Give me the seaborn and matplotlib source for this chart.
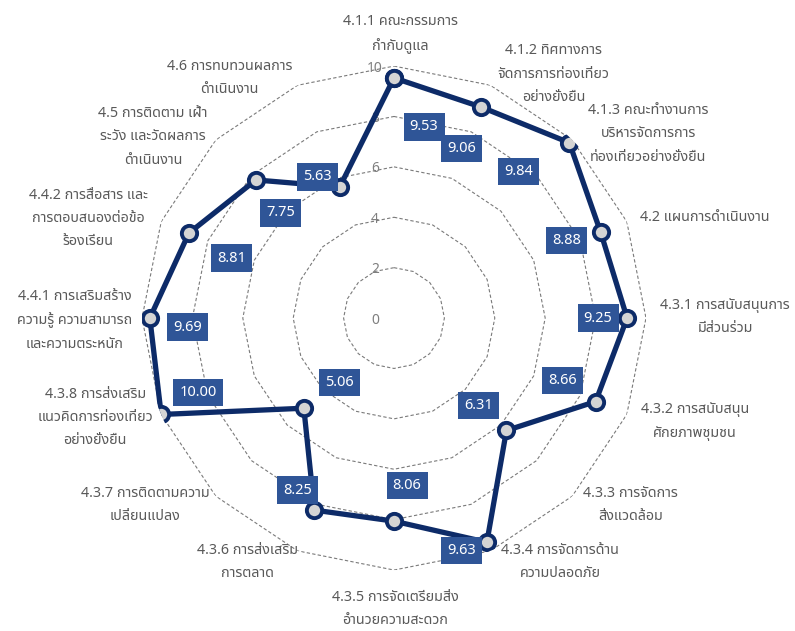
import matplotlib

matplotlib.use("Agg")

import matplotlib.pyplot as plt
import numpy as np
import pandas as pd
import seaborn as sns
from matplotlib import font_manager

categories = [
    "4.1.1 คณะกรรมการ\nกำกับดูแล",
    "4.1.2 ทิศทางการ\nจัดการการท่องเที่ยว\nอย่างยั่งยืน",
    "4.1.3 คณะทำงานการ\nบริหารจัดการการ\nท่องเที่ยวอย่างยั่งยืน",
    "4.2 แผนการดำเนินงาน",
    "4.3.1 การสนับสนุนการ\nมีส่วนร่วม",
    "4.3.2 การสนับสนุน\nศักยภาพชุมชน",
    "4.3.3 การจัดการ\nสิ่งแวดล้อม",
    "4.3.4 การจัดการด้าน\nความปลอดภัย",
    "4.3.5 การจัดเตรียมสิ่ง\nอำนวยความสะดวก",
    "4.3.6 การส่งเสริม\nการตลาด",
    "4.3.7 การติดตามความ\nเปลี่ยนแปลง",
    "4.3.8 การส่งเสริม\nแนวคิดการท่องเที่ยว\nอย่างยั่งยืน",
    "4.4.1 การเสริมสร้าง\nความรู้ ความสามารถ\nและความตระหนัก",
    "4.4.2 การสื่อสาร และ\nการตอบสนองต่อข้อ\nร้องเรียน",
    "4.5 การติดตาม เฝ้า\nระวัง และวัดผลการ\nดำเนินงาน",
    "4.6 การทบทวนผลการ\nดำเนินงาน",
]
scores = [9.53, 9.06, 9.84, 8.88, 9.25, 8.66, 6.31, 9.63,
          8.06, 8.25, 5.06, 10.00, 9.69, 8.81, 7.75, 5.63]
ticks = [0, 2, 4, 6, 8, 10]

# label placement (pixels), tuned by eye
cat_offsets = [(6, 32), (63, 11), (76, 6), (78, 4), (79, 1), (68, -7),
               (58, -9), (70, -11), (1, -39), (-50, -11), (-71, -9),
               (-66, -3), (-67, -2), (-73, 3), (-63, 3), (-68, 7)]
val_offsets = [(30, -49), (-20, -41), (-51, -29), (-34, -8), (-29, 0),
               (-33, 21), (-28, 25), (-25, -8), (13, 36), (-17, 20),
               (36, 26), (37, 22), (38, -9), (43, -25), (25, -33),
               (-22, 10)]

NAVY = "#0d2b68"
BOX = "#2f5597"
GREY_TXT = "#595959"


def find_thai_font():
    preferred = ["Tahoma", "Leelawadee UI", "Leelawadee", "Noto Sans Thai",
                 "Noto Sans Thai UI", "Noto Sans Thai Looped", "Sarabun",
                 "Garuda", "Loma", "Umpush", "Waree", "Norasi", "Kinnari",
                 "Laksaman", "Tlwg Typo", "Sawasdee", "Purisa"]
    names = {f.name for f in font_manager.fontManager.ttflist}
    for n in preferred:
        if n in names:
            return n
    try:
        from fontTools.ttLib import TTFont
    except ImportError:
        return None
    for f in font_manager.fontManager.ttflist:
        try:
            cmap = TTFont(f.fname, fontNumber=0, lazy=True).getBestCmap()
        except Exception:
            continue
        if cmap and 0x0E01 in cmap and 0x0E40 in cmap:
            return f.name
    return None


sns.set_theme(style="white")
thai = find_thai_font()
families = ([thai] if thai else []) + ["DejaVu Sans"]
plt.rcParams["font.family"] = families

n = len(categories)
theta = np.arange(n) * 2 * np.pi / n
df = pd.DataFrame({"theta": np.append(theta, 2 * np.pi),
                   "score": scores + scores[:1]})

fig = plt.figure(figsize=(7.95, 6.31), dpi=100)
ax = fig.add_axes([0.4956 - 0.317, 0.496 - 0.3994, 0.634, 0.7987],
                  projection="polar")
ax.set_theta_zero_location("N")
ax.set_theta_direction(-1)
ax.set_ylim(0, 10)
ax.grid(False)
ax.set_xticks([])
ax.set_yticks([])
ax.spines["polar"].set_visible(False)
ax.patch.set_alpha(0)

# polygon gridlines
ring = np.append(theta, 2 * np.pi)
for t in ticks[1:]:
    ax.plot(ring, np.full(len(ring), t), color="#7a7a7a", lw=0.8,
            ls=(0, (3, 2)), zorder=1)
for t in ticks:
    ax.annotate(str(t), (0, t), xytext=(-19, -2), textcoords="offset pixels",
                ha="center", va="center", fontsize=10, color="#7f7f7f",
                zorder=2)

sns.lineplot(data=df, x="theta", y="score", ax=ax, sort=False,
             color=NAVY, lw=3.8, marker="o", markersize=11,
             markerfacecolor="#d4d4d4", markeredgecolor=NAVY,
             markeredgewidth=2.8, zorder=4)
ax.set_xlabel("")
ax.set_ylabel("")

for th, sc, (dx, dy) in zip(theta, scores, val_offsets):
    ax.annotate(f"{sc:.2f}", (th, sc), xytext=(dx, dy),
                textcoords="offset pixels", ha="center", va="center",
                fontsize=10.5, color="white", zorder=5,
                bbox=dict(boxstyle="square,pad=0.42", fc=BOX, ec="none"))

for th, label, (dx, dy) in zip(theta, categories, cat_offsets):
    ax.annotate(label, (th, 10), xytext=(dx, dy),
                textcoords="offset pixels", ha="center", va="center",
                fontsize=10.3, color=GREY_TXT, linespacing=1.75,
                annotation_clip=False, zorder=3)

fig.savefig("out.png", dpi=100)
